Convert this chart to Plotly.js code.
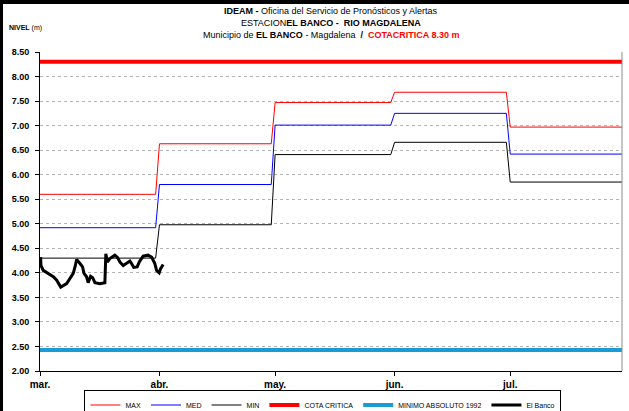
<!DOCTYPE html>
<html>
<head>
<meta charset="utf-8">
<script src="https://cdn.plot.ly/plotly-3.0.1.min.js"></script>
<style>
  html, body { margin: 0; padding: 0; background: #fff; overflow: hidden; }
  #wrap { position: relative; width: 629px; height: 411px; overflow: hidden; }
  #chart { position: absolute; left: 0; top: 0; width: 629px; height: 411px; }
  .bar { position: absolute; background: #000; }
</style>
</head>
<body>
<div id="wrap">
  <div id="chart"></div>
  <div class="bar" style="left:0;top:0;width:629px;height:4px;"></div>
  <div class="bar" style="left:0;top:0;width:3px;height:411px;"></div>
</div>
<script>
// ---- data ----
var monthStarts = ['2024-03-01', '2024-04-01', '2024-05-01', '2024-06-01', '2024-07-01'];
var monthEnds   = ['2024-03-31', '2024-04-30', '2024-05-31', '2024-06-30', '2024-07-30'];
var maxValues = [5.60, 6.63, 7.47, 7.68, 6.97];
var medValues = [4.92, 5.80, 7.01, 7.25, 6.42];
var minValues = [4.30, 4.98, 6.41, 6.66, 5.85];
var cotaCritica = 8.30;
var minimoAbsoluto1992 = 2.43;
var rangeStart = '2024-03-01';
var rangeEnd = '2024-07-30';

var elBancoTime = [
  '2024-03-01 04:00', '2024-03-01 06:00', '2024-03-01 20:00', '2024-03-03 04:00', '2024-03-04 11:00',
  '2024-03-05 08:00', '2024-03-06 09:00', '2024-03-07 22:00', '2024-03-08 18:00', '2024-03-09 15:00',
  '2024-03-10 02:00', '2024-03-10 08:00', '2024-03-10 12:00', '2024-03-11 09:00', '2024-03-12 01:00',
  '2024-03-12 10:00', '2024-03-13 02:00', '2024-03-13 12:00', '2024-03-14 03:00', '2024-03-14 16:00',
  '2024-03-15 06:00', '2024-03-16 13:00', '2024-03-17 20:00', '2024-03-18 02:00', '2024-03-18 11:00',
  '2024-03-19 03:00', '2024-03-20 10:00', '2024-03-21 01:00', '2024-03-21 18:00', '2024-03-22 14:00',
  '2024-03-23 11:00', '2024-03-24 08:00', '2024-03-24 18:00', '2024-03-25 08:00', '2024-03-26 05:00',
  '2024-03-26 18:00', '2024-03-27 18:00', '2024-03-29 01:00', '2024-03-29 23:00', '2024-03-30 19:00',
  '2024-03-31 06:00', '2024-03-31 22:00', '2024-04-01 06:00', '2024-04-01 23:00'
];
var elBancoValue = [
  4.32, 4.15, 4.05, 3.99, 3.92,
  3.85, 3.71, 3.78, 3.88, 3.99,
  4.12, 4.26, 4.27, 4.19, 4.12,
  3.99, 3.92, 3.80, 3.93, 3.90,
  3.80, 3.78, 3.80, 4.39, 4.22,
  4.29, 4.36, 4.32, 4.22, 4.15,
  4.20, 4.24, 4.19, 4.11, 4.12,
  4.22, 4.34, 4.36, 4.32, 4.19,
  4.05, 4.00, 4.08, 4.17
];

var tickDates = ['2024-03-01', '2024-04-01', '2024-05-01', '2024-06-01', '2024-07-01'];
var tickLabels = ['mar.', 'abr.', 'may.', 'jun.', 'jul.'];
var yTicks = [2.0, 2.5, 3.0, 3.5, 4.0, 4.5, 5.0, 5.5, 6.0, 6.5, 7.0, 7.5, 8.0, 8.5];

// ---- build step series from monthly values ----
function stepX() {
  var xs = [];
  for (var i = 0; i < monthStarts.length; i++) { xs.push(monthStarts[i]); xs.push(monthEnds[i]); }
  return xs;
}
function stepY(vals) {
  var ys = [];
  for (var i = 0; i < vals.length; i++) { ys.push(vals[i]); ys.push(vals[i]); }
  return ys;
}
var xs = stepX();

var arial = 'Liberation Sans, Arial, sans-serif';

var traces = [
  { x: xs, y: stepY(maxValues), name: 'MAX', mode: 'lines', line: { color: '#ff0000', width: 1 } },
  { x: xs, y: stepY(medValues), name: 'MED', mode: 'lines', line: { color: '#0000ff', width: 1 } },
  { x: xs, y: stepY(minValues), name: 'MIN', mode: 'lines', line: { color: '#000000', width: 1 } },
  { x: [rangeStart, rangeEnd], y: [cotaCritica, cotaCritica], name: 'COTA CRITICA', mode: 'lines', line: { color: '#ff0000', width: 4 } },
  { x: [rangeStart, rangeEnd], y: [minimoAbsoluto1992, minimoAbsoluto1992], name: 'MINIMO ABSOLUTO 1992', mode: 'lines', line: { color: '#1a9bd3', width: 4 } },
  { x: elBancoTime, y: elBancoValue, name: 'El Banco', mode: 'lines', line: { color: '#000000', width: 3 } }
];

var layout = {
  width: 629, height: 411,
  margin: { l: 40, r: 7, t: 52, b: 40 },
  paper_bgcolor: '#ffffff', plot_bgcolor: '#ffffff',
  showlegend: true,
  legend: {
    orientation: 'h', xref: 'container', yref: 'container',
    x: 0.5135, xanchor: 'center', y: 0, yanchor: 'bottom',
    bgcolor: 'rgba(0,0,0,0)',
    bordercolor: '#000000', borderwidth: 1,
    font: { family: arial, size: 7, color: '#000' },
    itemwidth: 30, tracegroupgap: 0
  },
  xaxis: {
    type: 'date', range: [rangeStart, rangeEnd],
    tickmode: 'array', tickvals: tickDates, ticktext: tickLabels,
    ticks: 'outside', ticklen: 4, tickcolor: '#000',
    showline: true, linecolor: '#000', linewidth: 1,
    showgrid: false, zeroline: false,
    tickfont: { family: arial, size: 10, color: '#000', weight: 'bold' }
  },
  yaxis: {
    range: [2, 8.5], tickmode: 'array', tickvals: yTicks, tickformat: '.2f',
    ticks: 'outside', ticklen: 4, tickcolor: '#000',
    showline: true, linecolor: '#000', linewidth: 1,
    showgrid: true, gridcolor: '#b4b4b4', griddash: 'dot', gridwidth: 1,
    zeroline: false, ticklabelstandoff: 4,
    tickfont: { family: arial, size: 9, color: '#000', weight: 'bold' }
  },
  shapes: [
    { type: 'line', xref: 'paper', yref: 'paper', x0: 1, x1: 1, y0: 0, y1: 1, line: { color: '#8c8c8c', width: 1 } }
  ],
  annotations: [
    { xref: 'paper', yref: 'paper', x: 0.5, y: 1.128, xanchor: 'center', yanchor: 'middle', showarrow: false,
      text: '<b>IDEAM - </b>Oficina del Servicio de Pronósticos y Alertas',
      font: { family: arial, size: 9, color: '#000' } },
    { xref: 'paper', yref: 'paper', x: 0.5, y: 1.09, xanchor: 'center', yanchor: 'middle', showarrow: false,
      text: 'ESTACION<b>EL BANCO -  RIO MAGDALENA</b>',
      font: { family: arial, size: 9, color: '#000' } },
    { xref: 'paper', yref: 'paper', x: 0.5, y: 1.052, xanchor: 'center', yanchor: 'middle', showarrow: false,
      text: 'Municipio de <b>EL BANCO</b> - Magdalena  <b>/</b>  <b><span style="color:#ff0000">COTACRITICA 8.30 m</span></b>',
      font: { family: arial, size: 9, color: '#000' } },
    { xref: 'paper', yref: 'paper', x: -0.057, y: 1.075, xanchor: 'left', yanchor: 'middle', showarrow: false,
      text: '<b>NIVEL</b> (m)',
      font: { family: arial, size: 7, color: '#000' } }
  ]
};

Plotly.newPlot('chart', traces, layout, { displayModeBar: false, staticPlot: true }).then(function (gd) {
  // push the legend box down so its top edge sits just under the month labels, as in the reference
  var lg = gd.querySelector('g.legend');
  if (!lg) return;
  var top = lg.getBoundingClientRect().top;
  var dy = 390 - top;
  var t = lg.getAttribute('transform') || '';
  var m = /translate\(\s*([-\d.eE]+)[ ,]+([-\d.eE]+)\s*\)/.exec(t);
  if (m) {
    lg.setAttribute('transform', 'translate(' + m[1] + ',' + (parseFloat(m[2]) + dy) + ')');
  }
});
</script>
</body>
</html>
